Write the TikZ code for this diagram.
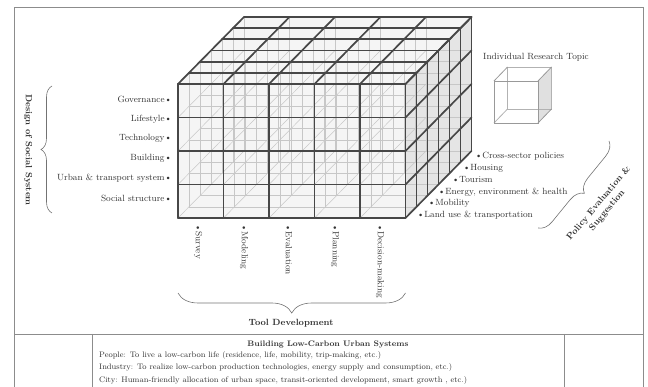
\documentclass[tikz,border=0pt]{standalone}
\usetikzlibrary{decorations.pathreplacing}

\begin{document}
\begin{tikzpicture}[x=1pt, y=-1pt,
  cubeline/.style = {line width=1.7pt, black!72, line cap=round, line join=round},
  hidline/.style = {line width=.5pt, black!22},
  lbl/.style = {font=\fontsize{9}{10}\selectfont, text=black!80, inner sep=0pt},
  ttl/.style = {font=\fontsize{9}{11}\selectfont\bfseries, text=black!80, inner sep=0pt},
  note/.style = {font=\fontsize{8}{9}\selectfont, text=black!80, inner sep=0pt, anchor=west},
  brc/.style = {decorate, decoration={brace, amplitude=#1}, black!55, line width=.6pt},
  frameline/.style = {black!45, line width=.8pt},]

\useasboundingbox (0,0) rectangle (648,387);

% frame and table
\draw[frameline] (14.5,7) rectangle (643,395);
\draw[frameline] (14.5,334) -- (643,334);
\draw[frameline] (92,334) -- (92,395);
\draw[frameline] (564,334) -- (564,395);

% faces of the cube
\fill[black!4] (178,84) rectangle (405.5,218);
\fill[black!4] (178,84) -- (244,17) -- (471.5,17) -- (405.5,84) -- cycle;
\fill[black!10] (405.5,84) -- (471.5,17) -- (471.5,151) -- (405.5,218) -- cycle;

% inner grid
\foreach \k in {1,...,6}{
  \foreach \i in {0,...,5}
    \draw[hidline] ({178+45.5*\i+11*\k},{84-11.17*\k}) -- ++(0,134);
  \foreach \j in {0,...,4}
    \draw[hidline] ({178+11*\k},{84+33.5*\j-11.17*\k}) -- ++(227.5,0);
}
\foreach \i in {0,...,5}
  \foreach \j in {0,...,4}
    \draw[hidline] ({178+45.5*\i},{84+33.5*\j}) -- ++(66,-67);

% front face
\foreach \i in {0,...,5}
  \draw[cubeline] ({178+45.5*\i},84) -- ++(0,134);
\foreach \j in {0,...,4}
  \draw[cubeline] (178,{84+33.5*\j}) -- ++(227.5,0);

% top face
\foreach \k in {0,...,6}
  \draw[cubeline] ({178+11*\k},{84-11.17*\k}) -- ++(227.5,0);
\foreach \i in {0,...,5}
  \draw[cubeline] ({178+45.5*\i},84) -- ++(66,-67);

% right face
\foreach \k in {0,...,6}
  \draw[cubeline] ({405.5+11*\k},{84-11.17*\k}) -- ++(0,134);
\foreach \j in {0,...,4}
  \draw[cubeline] (405.5,{84+33.5*\j}) -- ++(66,-67);

% single cell
\fill[black!12] (538,81) -- (551.5,67) -- (551.5,109) -- (538,123) -- cycle;
\draw[black!30, line width=.8pt] (507.5,67) rectangle (551.5,109);
\draw[black!30, line width=.8pt] (494,123) -- (507.5,109);
\draw[black!40, line width=.8pt] (494,81) -- (507.5,67) (538,81) -- (551.5,67) (538,123) -- (551.5,109);
\draw[black!40, line width=.8pt] (494,81) rectangle (538,123);
\node[lbl] (topic) at (536,57) {Individual Research Topic};

% social system
\node[lbl, anchor=east] (gov) at (172,99) {Governance\textbullet};
\node[lbl, anchor=east] (life) at (172,119) {Lifestyle\textbullet};
\node[lbl, anchor=east] (tech) at (172,138) {Technology\textbullet};
\node[lbl, anchor=east] (bldg) at (172,158) {Building\textbullet};
\node[lbl, anchor=east] (urban) at (172,178) {Urban \& transport system\textbullet};
\node[lbl, anchor=east] (social) at (172,198) {Social structure\textbullet};
\draw[brc=11pt] (52,213) -- (52,86);
\node[ttl, rotate=-90] (design) at (28,150) {Design of Social System};

% tools
\node[lbl, anchor=west, rotate=-90] (survey) at (198,224) {\textbullet Survey};
\node[lbl, anchor=west, rotate=-90] (model) at (244,224) {\textbullet Modeling};
\node[lbl, anchor=west, rotate=-90] (evalu) at (289,224) {\textbullet Evaluation};
\node[lbl, anchor=west, rotate=-90] (plan) at (335,224) {\textbullet Planning};
\node[lbl, anchor=west, rotate=-90] (decis) at (380,224) {\textbullet Decision-making};
\draw[brc=20pt] (405.5,293) -- (178,293);
\node[ttl] (tooldev) at (291,323) {Tool Development};

% policies
\node[lbl, anchor=west] (landuse) at (417,215) {\textbullet Land use \& transportation};
\node[lbl, anchor=west] (mobil) at (428,203) {\textbullet Mobility};
\node[lbl, anchor=west] (energy) at (438,192) {\textbullet Energy, environment \& health};
\node[lbl, anchor=west] (tour) at (452,180) {\textbullet Tourism};
\node[lbl, anchor=west] (housing) at (463,168) {\textbullet Housing};
\node[lbl, anchor=west] (cross) at (475,156) {\textbullet Cross-sector policies};
\draw[brc=14pt] (609,141) -- (538,228);
\node[ttl, rotate=50, align=center] (policy) at (603,207) {Policy Evaluation \&\\ Suggestion};

% table text
\node[ttl, font=\fontsize{8}{9}\selectfont\bfseries] (title) at (328,345) {Building Low-Carbon Urban Systems};
\node[note] (people) at (99,356) {People: To live a low-carbon life (residence, life, mobility, trip-making, etc.)};
\node[note] (industry) at (99,368) {Industry: To realize low-carbon production technologies, energy supply and consumption, etc.)};
\node[note] (city) at (99,380) {City: Human-friendly allocation of urban space, transit-oriented development, smart growth , etc.)};

\end{tikzpicture}
\end{document}
